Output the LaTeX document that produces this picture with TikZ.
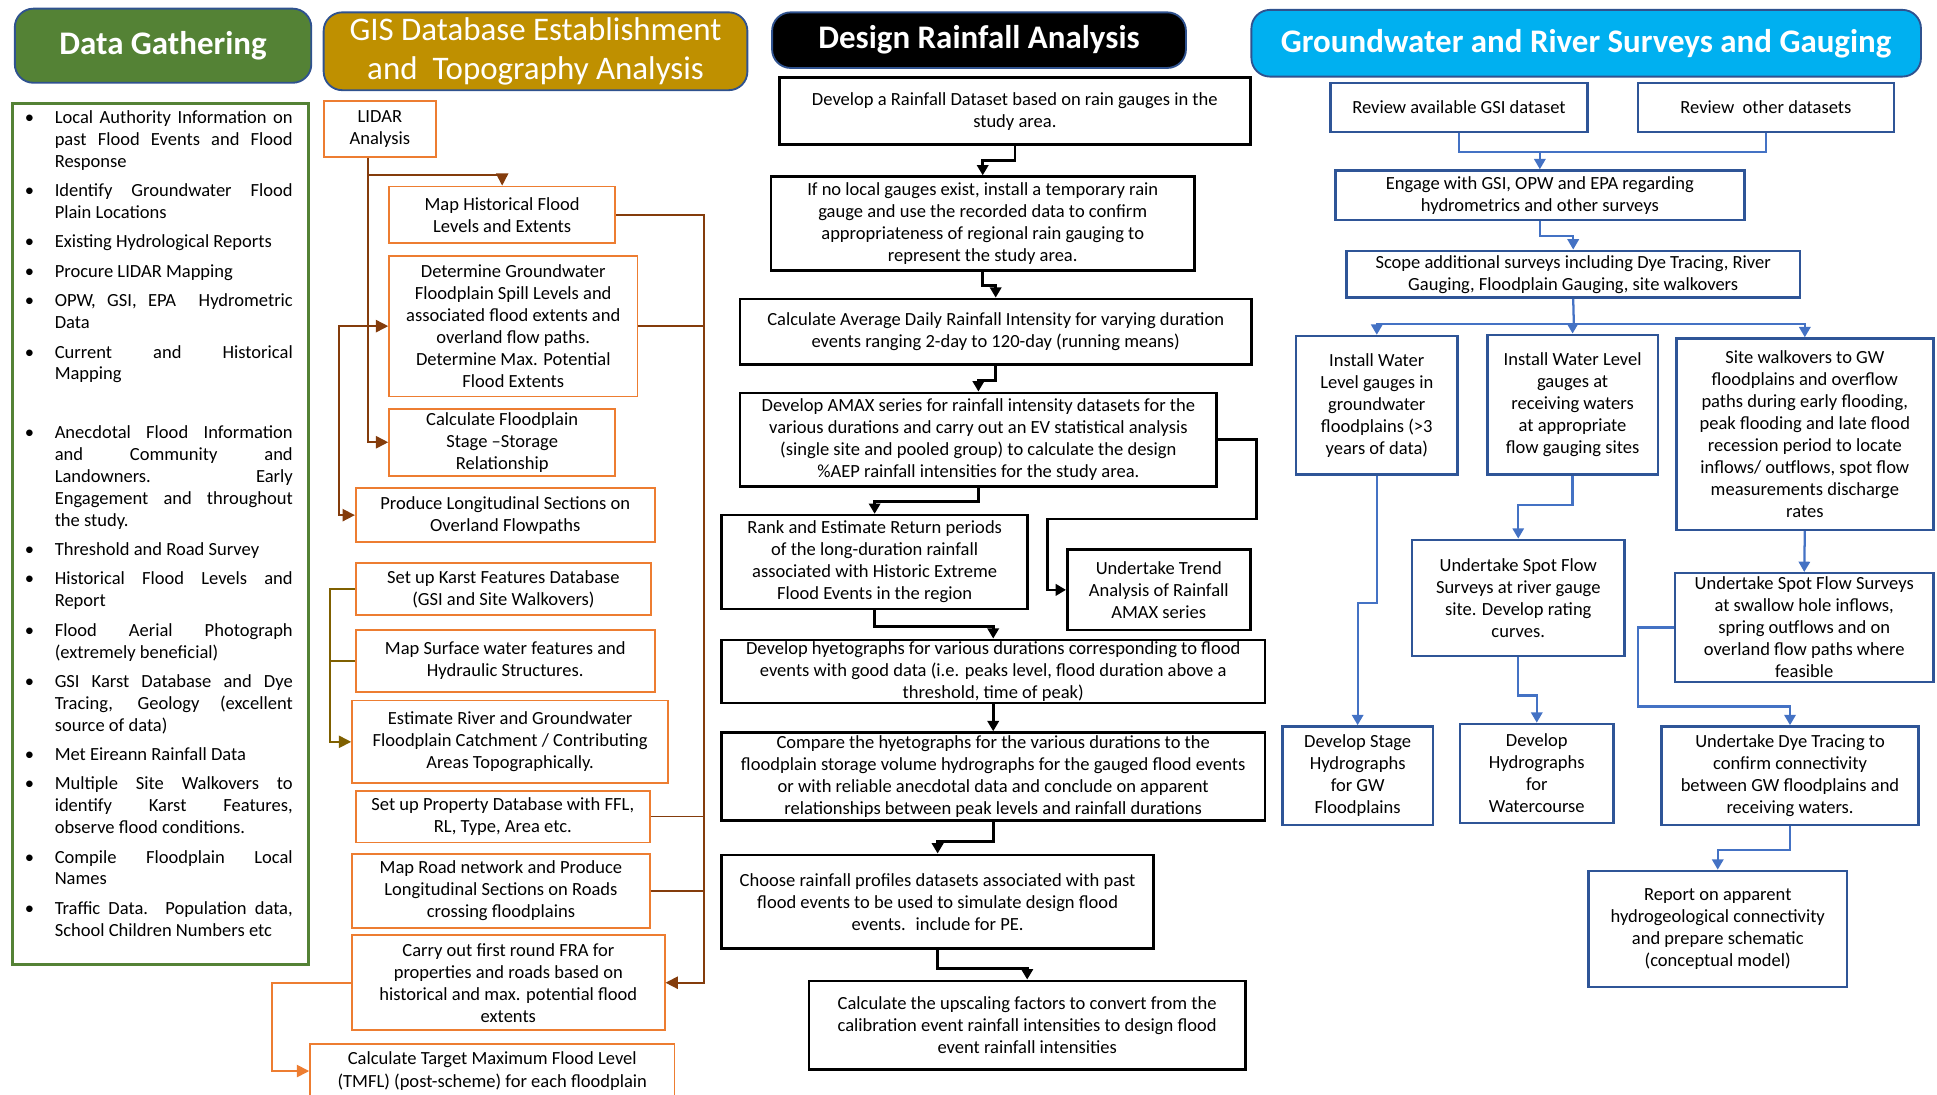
\documentclass[tikz,border=0pt]{standalone}
\usepackage{fontspec}
\setmainfont{Carlito}
\usepackage{enumitem}
\usepackage{xcolor}
\definecolor{dggreen}{RGB}{84, 130, 53}
\definecolor{gisgold}{RGB}{191, 144, 0}
\definecolor{gwcyan}{RGB}{0, 176, 240}
\definecolor{hdrrim}{RGB}{47, 82, 143}
\definecolor{gisorange}{RGB}{237, 125, 49}
\definecolor{gisbrown}{RGB}{132, 60, 12}
\definecolor{karstolive}{RGB}{127, 96, 0}
\definecolor{gwnavy}{RGB}{47, 85, 151}
\definecolor{gwblue}{RGB}{68, 114, 196}
\usetikzlibrary{arrows.meta}
\newcommand{\boxfont}{\fontsize{9}{10.7}\selectfont}
\newcommand{\hdrfont}{\fontsize{16}{18.6}\selectfont}

\begin{document}
\begin{tikzpicture}[x=0.6pt, y=-0.6pt,
  spot/.style n args={4}{at={({(#1+#3)/2},{(#2+#4)/2})}, minimum width={(#3-#1)*0.6pt}, minimum height={(#4-#2)*0.6pt}},
  hdr/.style={draw=hdrrim, line width=0.9pt, rounded corners=9pt, inner sep=0pt, text=white, align=center, font=\hdrfont},
  gisbox/.style={draw=gisorange, line width=0.9pt, fill=white, inner sep=0pt, align=center, font=\boxfont},
  rainbox/.style={draw=black, line width=1.3pt, fill=white, inner sep=0pt, align=center, font=\boxfont},
  gwbox/.style={draw=gwnavy, line width=1.2pt, fill=white, inner sep=0pt, align=center, font=\boxfont},
  gisline/.style={draw=gisbrown, line width=0.8pt},
  gisarrow/.style={gisline, -{Triangle[length=6pt, width=6pt]}},
  karstline/.style={draw=karstolive, line width=0.8pt},
  karstarrow/.style={karstline, -{Triangle[length=6pt, width=6pt]}},
  fraarrow/.style={draw=gisorange, line width=0.8pt, -{Triangle[length=6pt, width=6pt]}},
  rainarrow/.style={draw=black, line width=1.3pt, -{Triangle[length=5pt, width=5.5pt]}},
  gwline/.style={draw=gwblue, line width=1.1pt},
  gwarrow/.style={gwline, -{Triangle[length=5pt, width=5.5pt]}}
]

  \useasboundingbox (0,0) rectangle (1568,886);

  % HEADERS
  \node[hdr, fill=dggreen, spot={12}{7}{252}{67}, font=\hdrfont\bfseries] (dghead) {Data Gathering};
  \node[hdr, fill=gisgold, spot={262}{10}{605}{73}] (gishead) {GIS Database Establishment\\and~ Topography Analysis};
  \node[hdr, fill=black, spot={625}{10}{960}{55}, font=\hdrfont\bfseries] (rainhead) {Design Rainfall Analysis};
  \node[hdr, fill=gwcyan, spot={1013}{8}{1555}{62}, font=\hdrfont\bfseries] (gwhead) {Groundwater and River Surveys and Gauging};

  % DATA GATHERING - left column
  \node[draw=dggreen, line width=1.6pt, inner sep=0pt, spot={10}{84}{250}{781}] (dgframe) {};
  \node[anchor=north west, inner sep=0pt, text width=130pt, align=justify, font=\fontsize{9}{10.6}\selectfont] (dglist) at (20,82) {%
    \begin{itemize}[leftmargin=14.4pt, labelsep=10pt, itemsep=3.7pt, parsep=0pt, topsep=0pt, partopsep=0pt]
      \item Local Authority Information on\linebreak past Flood Events and Flood\linebreak Response
      \item Identify Groundwater Flood\linebreak Plain Locations
      \item Existing Hydrological Reports
      \item Procure LIDAR Mapping
      \item OPW, GSI, EPA~ Hydrometric\linebreak Data
      \item Current and Historical\linebreak Mapping
      \item[] \mbox{}
      \item Anecdotal Flood Information\linebreak and Community and\linebreak Landowners. Early\linebreak Engagement and throughout\linebreak the study.
      \item Threshold and Road Survey
      \item Historical Flood Levels and\linebreak Report
      \item Flood Aerial Photograph\linebreak (extremely beneficial)
      \item GSI Karst Database and Dye\linebreak Tracing, Geology (excellent\linebreak source of data)
      \item Met Eireann Rainfall Data
      \item Multiple Site Walkovers to\linebreak identify Karst Features,\linebreak observe flood conditions.
      \item Compile Floodplain Local\linebreak Names
      \item Traffic Data. Population data,\linebreak School Children Numbers etc
    \end{itemize}};

  % GIS DATABASE - second column
  \node[gisbox, spot={262}{82}{353}{127}] (lidar) {LIDAR\\Analysis};
  \node[gisbox, spot={315}{151}{498}{197}] (maphist) {Map Historical Flood\\Levels and Extents};
  \node[gisbox, spot={315}{207}{516}{321}] (determ) {Determine Groundwater\\Floodplain Spill Levels and\\associated flood extents and\\overland flow paths.\\Determine Max. Potential\\Flood Extents};
  \node[gisbox, spot={315}{331}{498}{385}] (calcfp) {Calculate Floodplain\\Stage –Storage\\Relationship};
  \node[gisbox, spot={288}{395}{530}{439}] (prodlong) {Produce Longitudinal Sections on\\Overland Flowpaths};
  \node[gisbox, spot={288}{456}{527}{498}] (karst) {Set up Karst Features Database\\(GSI and Site Walkovers)};
  \node[gisbox, spot={288}{510}{530}{560}] (surface) {Map Surface water features and\\Hydraulic Structures.};
  \node[gisbox, spot={285}{567}{541}{634}] (estim) {Estimate River and Groundwater\\Floodplain Catchment / Contributing\\Areas Topographically.};
  \node[gisbox, spot={288}{640}{526}{682}] (property) {Set up Property Database with FFL,\\RL, Type, Area etc.};
  \node[gisbox, spot={285}{691}{526}{751}] (maproad) {Map Road network and Produce\\Longitudinal Sections on Roads\\crossing floodplains};
  \node[gisbox, spot={285}{757}{538}{834}] (fra) {Carry out first round FRA for\\properties and roads based on\\historical and max. potential flood\\extents};
  \node[gisbox, spot={251}{845}{546}{889}] (tmfl) {Calculate Target Maximum Flood Level\\(TMFL) (post-scheme) for each floodplain};

  \draw[gisarrow] ([xshift=-5.7pt]lidar.south) -- ++(0,14) -| (maphist.north);
  \draw[gisarrow] ([xshift=-5.7pt]lidar.south) |- (calcfp.west);
  \draw[gisline, {Triangle[length=6pt, width=6pt]}-{Triangle[length=6pt, width=6pt]}] (determ.west) -- ++(-40,0) |- (prodlong.west);
  \coordinate (gisbus) at (570,174);
  \draw[gisarrow] (maphist.east) -- (gisbus) |- (fra.east);
  \draw[gisline] (determ.east) -- (determ.east -| gisbus);
  \draw[gisline] (property.east) -- (property.east -| gisbus);
  \draw[gisline] (maproad.east) -- (maproad.east -| gisbus);
  \draw[karstarrow] (karst.west) -- ++(-20,0) |- (estim.west);
  \draw[karstline] (surface.west) -- ++(-20,0);
  \draw[fraarrow] (fra.west) -- ++(-64,0) |- (tmfl.west);

  % DESIGN RAINFALL - third column
  \node[rainbox, spot={631}{63}{1012}{117}] (rb1) {Develop a Rainfall Dataset based on rain gauges in the\\study area.};
  \node[rainbox, spot={624}{143}{967}{219}] (rb2) {If no local gauges exist, install a temporary rain\\gauge and use the recorded data to confirm\\appropriateness of regional rain gauging to\\represent the study area.};
  \node[rainbox, spot={599}{242}{1013}{295}] (rb3) {Calculate Average Daily Rainfall Intensity for varying duration\\events ranging 2-day to 120-day (running means)};
  \node[rainbox, spot={599}{318}{985}{394}] (rb4) {Develop AMAX series for rainfall intensity datasets for the\\various durations and carry out an EV statistical analysis\\(single site and pooled group) to calculate the design\\\%AEP rainfall intensities for the study area.};
  \node[rainbox, spot={584}{417}{832}{493}] (rb5) {Rank and Estimate Return periods\\of the long-duration rainfall\\associated with Historic Extreme\\Flood Events in the region};
  \node[rainbox, spot={864}{445}{1012}{510}] (rb6) {Undertake Trend\\Analysis of Rainfall\\AMAX series};
  \node[rainbox, spot={584}{518}{1024}{569}] (rb7) {Develop hyetographs for various durations corresponding to flood\\events with good data (i.e. peaks level, flood duration above a\\threshold, time of peak)};
  \node[rainbox, spot={584}{593}{1024}{664}] (rb8) {Compare the hyetographs for the various durations to the\\floodplain storage volume hydrographs for the gauged flood events\\or with reliable anecdotal data and conclude on apparent\\relationships between peak levels and rainfall durations};
  \node[rainbox, spot={584}{692}{934}{768}] (rb9) {Choose rainfall profiles datasets associated with past\\flood events to be used to simulate design flood\\events.~ include for PE.};
  \node[rainbox, spot={655}{794}{1008}{866}] (rb10) {Calculate the upscaling factors to convert from the\\calibration event rainfall intensities to design flood\\event rainfall intensities};

  \draw[rainarrow] (rb1.south) -- ++(0,12) -| (rb2.north);
  \draw[rainarrow] (rb2.south) -- ++(0,11) -| (rb3.north);
  \draw[rainarrow] (rb3.south) -- ++(0,12) -| (rb4.north);
  \draw[rainarrow] (rb4.south) -- ++(0,11) -| (rb5.north);
  \draw[rainarrow] (rb4.east) -- ++(31,0) -- ++(0,64) -- ++(-169,0) |- (rb6.west);
  \draw[rainarrow] (rb5.south) -- ++(0,13) -| (rb7.north);
  \draw[rainarrow] (rb7.south) -- (rb8.north);
  \draw[rainarrow] (rb8.south) -- ++(0,16) -| (rb9.north);
  \draw[rainarrow] (rb9.south) -- ++(0,15) -| (rb10.north);

  % GROUNDWATER AND RIVER - right column
  \node[gwbox, spot={1077}{67}{1285}{107}] (gw1) {Review available GSI dataset};
  \node[gwbox, spot={1326}{67}{1533}{107}] (gw2) {Review~ other datasets};
  \node[gwbox, spot={1081}{138}{1412}{178}] (gw3) {Engage with GSI, OPW and EPA regarding\\hydrometrics and other surveys};
  \node[gwbox, spot={1090}{203}{1457}{241}] (gw4) {Scope additional surveys including Dye Tracing, River\\Gauging, Floodplain Gauging, site walkovers};
  \node[gwbox, spot={1049}{272}{1180}{384}] (gw5) {Install Water\\Level gauges in\\groundwater\\floodplains (>3\\years of data)};
  \node[gwbox, spot={1204}{271}{1342}{384}] (gw6) {Install Water Level\\gauges at\\receiving waters\\at appropriate\\flow gauging sites};
  \node[gwbox, spot={1357}{274}{1565}{429}] (gw7) {Site walkovers to GW\\floodplains and overflow\\paths during early flooding,\\peak flooding and late flood\\recession period to locate\\inflows/ outflows, spot flow\\measurements discharge\\rates};
  \node[gwbox, spot={1143}{437}{1315}{531}] (gw8) {Undertake Spot Flow\\Surveys at river gauge\\site. Develop rating\\curves.};
  \node[gwbox, spot={1356}{464}{1565}{552}] (gw9) {Undertake Spot Flow Surveys\\at swallow hole inflows,\\spring outflows and on\\overland flow paths where\\feasible};
  \node[gwbox, spot={1038}{588}{1160}{668}] (gw10) {Develop Stage\\Hydrographs\\for GW\\Floodplains};
  \node[gwbox, spot={1182}{586}{1306}{666}] (gw11) {Develop\\Hydrographs\\for\\Watercourse};
  \node[gwbox, spot={1345}{588}{1553}{668}] (gw12) {Undertake Dye Tracing to\\confirm connectivity\\between GW floodplains and\\receiving waters.};
  \node[gwbox, spot={1286}{705}{1495}{799}] (gw13) {Report on apparent\\hydrogeological connectivity\\and prepare schematic\\(conceptual model)};

  \coordinate (gwjoin) at (1247,123);
  \draw[gwline] (gw1.south) |- (gwjoin) -| (gw2.south);
  \draw[gwarrow] (gwjoin) -| (gw3.north);
  \draw[gwarrow] (gw3.south) -- ++(0,12) -| (gw4.north);
  \coordinate (gwfan) at (1274,262);
  \draw[gwline] (gw4.south) -- (gwfan);
  \draw[gwarrow] (gwfan) -| (gw5.north);
  \draw[gwarrow] (gwfan) -| (gw6.north);
  \draw[gwarrow] (gwfan) -| (gw7.north);
  \draw[gwarrow] (gw5.south) -- ++(0,103) -| (gw10.north);
  \draw[gwarrow] (gw6.south) -- ++(0,24) -| (gw8.north);
  \draw[gwarrow] (gw7.south) -- (gw9.north);
  \draw[gwarrow] (gw8.south) -- ++(0,31) -| (gw11.north);
  \draw[gwarrow] (gw9.west) -- ++(-29,0) -- ++(0,64) -| (gw12.north);
  \draw[gwarrow] (gw12.south) -- ++(0,19) -| (gw13.north);

\end{tikzpicture}
\end{document}
